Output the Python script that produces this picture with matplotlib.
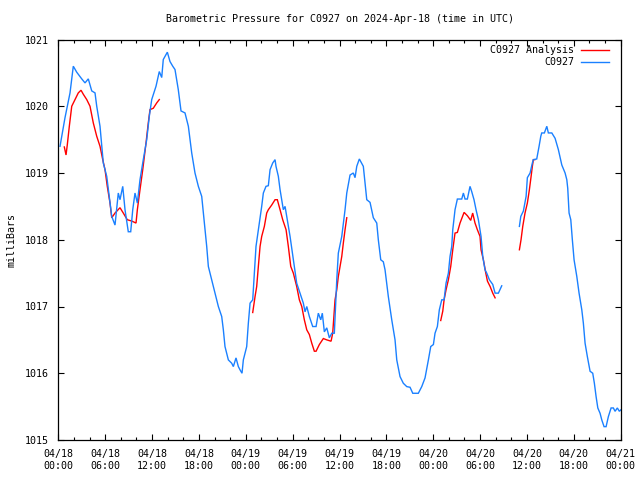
import numpy as np
import matplotlib
matplotlib.use("Agg")
import matplotlib.pyplot as plt
from matplotlib.ticker import MultipleLocator

nan = float("nan")

# Hours since 2024-04-18 00:00 UTC and pressure (mb) -- station C0927
obs_hours = [0.22, 0.86, 1.50, 1.92, 2.36, 3.00, 3.42, 3.84, 4.28, 4.70, 4.92, 5.34, 5.76, 6.20,
             6.62, 6.84, 7.26, 7.68, 7.90, 8.25, 8.54, 8.96, 9.27, 9.53, 9.82, 10.12, 10.46, 10.88,
             11.32, 11.65, 11.96, 12.51, 12.93, 13.24, 13.44, 13.96, 14.30, 14.65, 14.94, 15.36,
             15.71, 16.22, 16.65, 17.08, 17.50, 17.93, 18.36, 18.66, 19.00, 19.21, 19.64, 20.06,
             20.49, 20.92, 21.13, 21.34, 21.77, 22.20, 22.41, 22.75, 23.05, 23.27, 23.52, 23.69,
             24.12, 24.33, 24.55, 24.89, 25.10, 25.31, 25.61, 26.04, 26.25, 26.59, 26.89, 27.11,
             27.45, 27.75, 27.87, 28.17, 28.39, 28.81, 29.03, 29.32, 29.67, 30.09, 30.52, 30.95,
             31.37, 31.59, 31.81, 32.14, 32.57, 33.00, 33.29, 33.60, 33.80, 34.06, 34.37, 34.70,
             35.01, 35.34, 35.65, 35.85, 36.29, 36.71, 36.93, 37.35, 37.77, 37.99, 38.21, 38.54,
             39.05, 39.49, 39.91, 40.33, 40.77, 40.97, 41.28, 41.61, 41.83, 42.25, 42.69, 43.11,
             43.33, 43.75, 44.17, 44.61, 45.03, 45.38, 46.09, 46.53, 46.95, 47.38, 47.68, 48.02,
             48.23, 48.53, 48.78, 49.09, 49.39, 49.64, 49.94, 50.15, 50.37, 50.50, 50.79, 51.09,
             51.65, 51.86, 52.07, 52.37, 52.71, 52.93, 53.22, 53.48, 53.78, 54.12, 54.34, 54.63,
             54.85, 55.19, 55.62, 55.92, 56.34, 56.77, 57.90,
             59.03, 59.21, 59.54, 59.89, 60.05, 60.40, 60.69, 60.82, 61.25, 61.55, 61.77, 61.89,
             62.23, 62.54, 62.74, 63.18, 63.60, 64.02, 64.46, 64.88, 65.10, 65.22, 65.39, 65.61,
             65.81, 66.03, 66.38, 66.67, 67.02, 67.22, 67.44, 67.73, 68.08, 68.42, 68.63, 68.85,
             69.07, 69.36, 69.58, 69.87, 70.13, 70.42, 70.77, 71.06, 71.28, 71.57, 71.83, 72.00]
obs_mb = [1019.40, 1019.83, 1020.20, 1020.60, 1020.51, 1020.41, 1020.35, 1020.41, 1020.23, 1020.20,
          1020.00, 1019.70, 1019.15, 1018.95, 1018.55, 1018.35, 1018.22, 1018.70, 1018.60, 1018.80,
          1018.45, 1018.12, 1018.12, 1018.45, 1018.70, 1018.55, 1018.90, 1019.20, 1019.50, 1019.85,
          1020.10, 1020.30, 1020.52, 1020.43, 1020.70, 1020.81, 1020.67, 1020.60, 1020.55, 1020.25,
          1019.93, 1019.90, 1019.70, 1019.30, 1019.00, 1018.80, 1018.65, 1018.30, 1017.90, 1017.60,
          1017.40, 1017.20, 1017.00, 1016.85, 1016.65, 1016.40, 1016.20, 1016.15, 1016.10, 1016.23,
          1016.10, 1016.05, 1016.00, 1016.20, 1016.40, 1016.75, 1017.05, 1017.10, 1017.50, 1017.90,
          1018.15, 1018.50, 1018.70, 1018.80, 1018.81, 1019.05, 1019.15, 1019.20, 1019.10, 1018.95,
          1018.75, 1018.45, 1018.50, 1018.30, 1018.05, 1017.70, 1017.35, 1017.20, 1017.05, 1016.92,
          1017.00, 1016.85, 1016.70, 1016.70, 1016.90, 1016.80, 1016.90, 1016.62, 1016.68, 1016.53,
          1016.60, 1016.60, 1017.40, 1017.80, 1018.05, 1018.45, 1018.70, 1018.97, 1019.00, 1018.93,
          1019.10, 1019.21, 1019.10, 1018.60, 1018.56, 1018.33, 1018.25, 1018.00, 1017.70, 1017.67,
          1017.55, 1017.15, 1016.80, 1016.50, 1016.20, 1015.95, 1015.85, 1015.80, 1015.79, 1015.70,
          1015.70, 1015.80, 1015.93, 1016.20, 1016.40, 1016.43, 1016.60, 1016.70, 1016.95, 1017.10,
          1017.10, 1017.35, 1017.50, 1017.75, 1017.90, 1018.15, 1018.45, 1018.61, 1018.61, 1018.70,
          1018.61, 1018.61, 1018.80, 1018.72, 1018.60, 1018.45, 1018.30, 1018.05, 1017.75, 1017.55,
          1017.50, 1017.40, 1017.33, 1017.20, 1017.20, 1017.31, nan,
          1018.20, 1018.35, 1018.43, 1018.65, 1018.93, 1019.00, 1019.15, 1019.20, 1019.21, 1019.40,
          1019.55, 1019.60, 1019.60, 1019.70, 1019.60, 1019.60, 1019.52, 1019.35, 1019.12, 1019.00,
          1018.90, 1018.77, 1018.40, 1018.30, 1018.00, 1017.70, 1017.45, 1017.20, 1016.95, 1016.75,
          1016.45, 1016.25, 1016.03, 1016.00, 1015.85, 1015.65, 1015.48, 1015.40, 1015.30, 1015.20,
          1015.20, 1015.35, 1015.48, 1015.48, 1015.43, 1015.48, 1015.43, 1015.45]

ana_hours = [0.77, 0.99, 1.15, 1.41, 1.72, 2.14, 2.56, 2.91, 3.20, 3.64, 4.06, 4.48, 4.92, 5.34,
             5.69, 5.98, 6.27, 6.62, 6.84, 7.26, 7.90, 8.32, 8.83, 9.40, 9.95, 10.12, 10.46, 10.81,
             11.23, 11.52, 11.74, 12.16, 12.60, 12.93, 18.0,
             24.89, 25.19, 25.40, 25.61, 25.83, 26.04, 26.38, 26.68, 26.89, 27.32, 27.75, 28.04,
             28.39, 28.73, 29.16, 29.45, 29.76, 30.09, 30.52, 30.86, 31.17, 31.50, 31.81, 32.14,
             32.45, 32.78, 33.00, 33.42, 33.93, 34.37, 34.92, 35.13, 35.43, 35.65, 35.85, 36.07,
             36.29, 36.49, 36.71, 36.93, 42.0,
             48.96, 49.22, 49.39, 49.64, 49.94, 50.24, 50.50, 50.79, 51.09, 51.43, 51.95, 52.37,
             52.80, 53.05, 53.35, 53.65, 53.99, 54.12, 54.42, 54.73, 54.94, 55.28, 55.62, 55.92, 57.5,
             59.03, 59.24, 59.46, 59.75, 60.05, 60.31, 60.53, 60.69, 60.82, 61.00]
ana_mb = [1019.39, 1019.27, 1019.42, 1019.70, 1020.00, 1020.10, 1020.20, 1020.24, 1020.18, 1020.10,
          1020.00, 1019.75, 1019.55, 1019.40, 1019.20, 1019.05, 1018.80, 1018.55, 1018.33, 1018.40,
          1018.48, 1018.40, 1018.30, 1018.28, 1018.25, 1018.45, 1018.75, 1019.05, 1019.45, 1019.75,
          1019.95, 1019.97, 1020.05, 1020.10, nan,
          1016.91, 1017.15, 1017.30, 1017.60, 1017.90, 1018.05, 1018.20, 1018.40, 1018.45, 1018.52,
          1018.60, 1018.60, 1018.45, 1018.30, 1018.15, 1017.90, 1017.60, 1017.50, 1017.30, 1017.10,
          1017.00, 1016.80, 1016.65, 1016.58, 1016.45, 1016.33, 1016.33, 1016.43, 1016.52, 1016.50,
          1016.48, 1016.60, 1017.10, 1017.25, 1017.45, 1017.60, 1017.75, 1017.95, 1018.15, 1018.33, nan,
          1016.79, 1016.93, 1017.10, 1017.25, 1017.40, 1017.60, 1017.85, 1018.10, 1018.11, 1018.25,
          1018.41, 1018.36, 1018.29, 1018.40, 1018.25, 1018.15, 1018.05, 1017.85, 1017.70, 1017.50,
          1017.38, 1017.30, 1017.20, 1017.13, nan,
          1017.85, 1018.00, 1018.20, 1018.40, 1018.55, 1018.75, 1018.95, 1019.10, 1019.20, 1019.20]

tick_hours = [0, 6, 12, 18, 24, 30, 36, 42, 48, 54, 60, 66, 72]
tick_labels = ["04/18\n00:00", "04/18\n06:00", "04/18\n12:00", "04/18\n18:00",
               "04/19\n00:00", "04/19\n06:00", "04/19\n12:00", "04/19\n18:00",
               "04/20\n00:00", "04/20\n06:00", "04/20\n12:00", "04/20\n18:00",
               "04/21\n00:00"]
y_ticks = [1015, 1016, 1017, 1018, 1019, 1020, 1021]

FONT = "DejaVu Sans Mono"
FS = 7.2
RED = "#ff0000"
BLUE = "#1a80ff"

fig = plt.figure(figsize=(6.4, 4.8), dpi=100)
ax_left, ax_right = 58.3, 620.7
ax = fig.add_axes([ax_left / 640, 40 / 480, (ax_right - ax_left) / 640, 400.5 / 480])

ax.plot(ana_hours, ana_mb, color=RED, lw=1.0, solid_joinstyle="miter")
ax.plot(obs_hours, obs_mb, color=BLUE, lw=1.0, solid_joinstyle="miter")

ax.set_xlim(0, 72)
ax.set_ylim(1015, 1021)
ax.set_xticks(tick_hours)
ax.set_xticklabels(tick_labels, fontfamily=FONT, fontsize=FS, linespacing=1.2)
ax.xaxis.set_minor_locator(MultipleLocator(2))
ax.set_yticks(y_ticks)
ax.set_yticklabels([str(v) for v in y_ticks], fontfamily=FONT, fontsize=FS)
ax.tick_params(which="major", direction="in", length=4.5, width=0.8,
               top=True, right=True)
ax.tick_params(which="minor", direction="in", length=2.2, width=0.8,
               top=True, right=True)
ax.tick_params(axis="x", pad=6.5)
ax.tick_params(axis="y", pad=7)
for s in ax.spines.values():
    s.set_linewidth(0.9)

ax.set_ylabel("milliBars", fontfamily=FONT, fontsize=FS, labelpad=6)
fig.text((ax_left + ax_right) / 2 / 640, 1 - 19 / 480,
         "Barometric Pressure for C0927 on 2024-Apr-18 (time in UTC)",
         ha="center", va="center", fontfamily=FONT, fontsize=FS)

# legend (gnuplot style: right-aligned text, sample to the right)
legend_names = ["C0927 Analysis", "C0927"]
legend_colors = [RED, BLUE]
for i, (name, col) in enumerate(zip(legend_names, legend_colors)):
    ypix = 50 + i * 12
    yf = 1 - ypix / 480
    fig.text(574 / 640, yf, name, ha="right", va="center", fontfamily=FONT, fontsize=FS)
    fig.add_artist(plt.Line2D([581 / 640, 609 / 640], [yf, yf], color=col, lw=1.0,
                              transform=fig.transFigure))

fig.savefig("out.png", dpi=100)
